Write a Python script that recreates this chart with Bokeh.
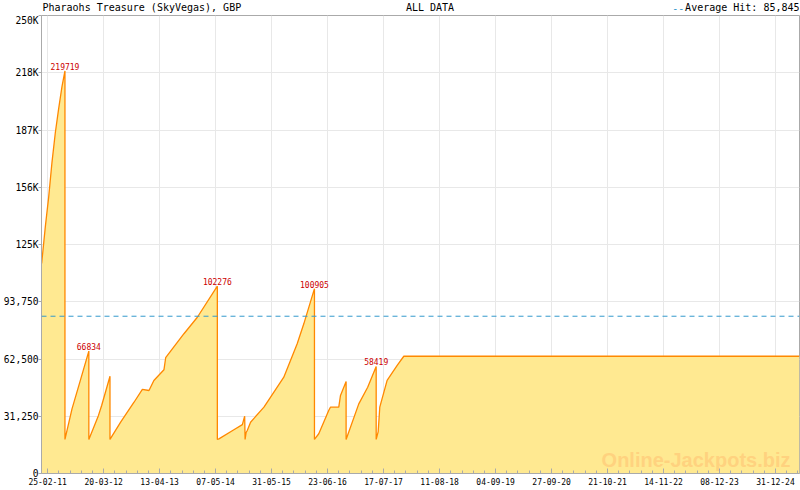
from datetime import datetime, timezone

from bokeh.core.properties import value
from bokeh.embed import file_html
from bokeh.layouts import column
from bokeh.models import (ColumnDataSource, DatetimeTickFormatter, FixedTicker,
                          Range1d, Span)
from bokeh.plotting import figure
from bokeh.resources import INLINE

# ---------------- data ----------------
title_text = "Pharaohs Treasure (SkyVegas), GBP"
period_text = "ALL DATA"
avg_hit = 85845

dates = [
    "2011-01-14", "2011-02-09", "2011-03-04", "2011-03-27", "2011-04-19",
    "2011-05-12", "2011-06-04", "2011-06-25", "2011-06-25",
    "2011-08-13", "2011-10-10", "2011-12-08", "2011-12-08",
    "2012-02-13", "2012-03-06", "2012-05-03", "2012-05-03",
    "2012-07-16", "2012-10-17", "2012-12-14", "2013-01-29", "2013-03-04",
    "2013-05-13", "2013-05-25", "2013-09-29", "2013-12-31", "2014-05-19",
    "2014-05-19", "2014-05-30", "2014-09-11", "2014-11-09", "2014-11-25",
    "2014-11-28", "2014-12-05", "2014-12-13", "2015-01-05", "2015-04-08",
    "2015-05-23", "2015-08-24", "2015-11-25", "2016-01-10", "2016-03-24",
    "2016-03-24", "2016-04-23", "2016-07-01", "2016-07-13", "2016-09-09",
    "2016-09-21", "2016-10-30", "2016-10-30", "2017-01-26", "2017-03-29",
    "2017-05-27", "2017-05-27", "2017-06-10", "2017-06-21", "2017-08-11",
    "2017-10-20", "2017-12-05", "2025-06-16",
]
values = [
    114600, 135000, 151000, 170000, 186000,
    199000, 211000, 219719, 18600,
    35300, 50800, 66834, 18600,
    31700, 37100, 53100, 18600,
    28000, 38900, 45900, 45300, 50800,
    56600, 63200, 76300, 85300, 102276,
    18600, 18900, 23900, 26700, 31300,
    18600, 22400, 23500, 28000, 36200,
    41600, 52600, 70800, 81700, 100905,
    18600, 21700, 34400, 36200, 36200,
    42600, 50200, 18600, 38000, 47100,
    58419, 18600, 22900, 36200, 50800,
    59000, 64000, 64000,
]

peak_dates = ["2011-06-25", "2011-12-08", "2014-05-19", "2016-03-24", "2017-05-27"]
peak_values = [219719, 66834, 102276, 100905, 58419]

x_tick_labels = ["25-02-11", "20-03-12", "13-04-13", "07-05-14", "31-05-15",
                 "23-06-16", "17-07-17", "11-08-18", "04-09-19", "27-09-20",
                 "21-10-21", "14-11-22", "08-12-23", "31-12-24"]
y_ticks = [0, 31250, 62500, 93750, 125000, 156250, 187500, 218750, 250000]
y_tick_labels = ["0", "31,250", "62,500", "93,750", "125K", "156K", "187K", "218K", "250K"]

x_start = "2011-01-13"
x_end = "2025-06-16"

W, H_HEAD, H_MAIN = 800, 14, 476
FRAME_L, FRAME_R = 40, 799
MONO = "DejaVu Sans Mono"


def ms(s, fmt="%Y-%m-%d"):
    d = datetime.strptime(s, fmt).replace(tzinfo=timezone.utc)
    return d.timestamp() * 1000.0


# ---------------- sources ----------------
src = ColumnDataSource(dict(x=[ms(d) for d in dates], y=values))
peak_src = ColumnDataSource(dict(x=[ms(d) for d in peak_dates], y=peak_values,
                                 label=[str(v) for v in peak_values]))

x0, x1 = ms(x_start), ms(x_end)
major = [ms(t, "%d-%m-%y") for t in x_tick_labels]
minor = []
step = major[1] - major[0]
for i in range(len(major)):
    for k in range(1, 5):
        v = major[i] + k * step / 5.0
        if v < x1:
            minor.append(v)

# ---------------- header strip (its frame is aligned with the main frame) ----------------
head = figure(width=W, height=H_HEAD, x_range=Range1d(FRAME_L, FRAME_R),
              y_range=Range1d(0, H_HEAD),
              x_axis_location=None, y_axis_location=None,
              output_backend="svg", toolbar_location=None,
              min_border_left=FRAME_L, min_border_right=W - FRAME_R,
              min_border_top=0, min_border_bottom=0)
head.outline_line_color = None
head.grid.visible = False
head.background_fill_color = "white"
head.border_fill_color = "white"
avg_text = f"Average Hit: {avg_hit:,}"
head.text(x=[41], y=[7], text=[title_text], text_font=value(MONO), text_font_size="10px",
          text_color="black", text_align="left", text_baseline="middle")
head.text(x=[429], y=[7], text=[period_text], text_font=value(MONO), text_font_size="10px",
          text_color="black", text_align="center", text_baseline="middle")
head.text(x=[799], y=[7], text=[avg_text], text_font=value(MONO), text_font_size="10px",
          text_color="black", text_align="right", text_baseline="middle")
head.text(x=[799 - len(avg_text) * 6.02 - 1], y=[7], text=["--"], text_font=value(MONO),
          text_font_size="10px", text_color="#3399cc", text_align="right",
          text_baseline="middle")

# ---------------- main figure ----------------
p = figure(width=W, height=H_MAIN, x_axis_type="datetime",
           x_range=Range1d(x0, x1), y_range=Range1d(0, 250000),
           output_backend="svg", toolbar_location=None,
           min_border_left=FRAME_L, min_border_right=W - FRAME_R,
           min_border_top=1, min_border_bottom=17)
p.background_fill_color = "white"
p.border_fill_color = "white"
p.outline_line_color = "#aaaaaa"

p.xaxis.ticker = FixedTicker(ticks=major, minor_ticks=minor)
p.xgrid.ticker = FixedTicker(ticks=major)
fmt = "%d-%m-%y"
p.xaxis.formatter = DatetimeTickFormatter(
    microseconds=fmt, milliseconds=fmt, seconds=fmt, minsec=fmt, minutes=fmt,
    hourmin=fmt, hours=fmt, days=fmt, months=fmt, years=fmt)
p.xaxis.major_tick_in = 5
p.xaxis.major_tick_out = 0
p.xaxis.minor_tick_in = 3
p.xaxis.minor_tick_out = 0
p.xaxis.major_label_standoff = 4
p.xaxis.major_label_text_font = MONO
p.xaxis.major_label_text_font_size = "8px"
p.xaxis.minor_tick_line_color = "#aaaaaa"

p.yaxis.ticker = FixedTicker(ticks=y_ticks)
p.yaxis.major_label_overrides = {t: l for t, l in zip(y_ticks, y_tick_labels)}
p.yaxis.major_tick_in = 0
p.yaxis.major_tick_out = 3
p.yaxis.minor_tick_line_color = None
p.yaxis.major_label_standoff = 0
p.yaxis.major_label_text_font = MONO
p.yaxis.major_label_text_font_size = "9.6px"

for ax in (p.xaxis, p.yaxis):
    ax.axis_line_color = "#aaaaaa"
    ax.major_tick_line_color = "#aaaaaa"
    ax.major_label_text_color = "black"

p.xgrid.grid_line_color = "#e8e8e8"
p.ygrid.grid_line_color = "#e8e8e8"

# area + line
p.varea(x="x", y1=0, y2="y", source=src, fill_color="#ffe991")
p.line(x="x", y="y", source=src, line_color="#ff8800", line_width=1.3)

# average line
p.add_layout(Span(location=avg_hit, dimension="width", line_color="#3399cc",
                  line_dash="5 4", line_width=1))

# peak labels
p.text(x="x", y="y", text="label", source=peak_src,
       text_font=value(MONO), text_font_size="8px",
       text_color="#cc0000", text_align="center", text_baseline="bottom",
       y_offset=-1)

# watermark
p.text(x=[x1], y=[0], text=["Online-Jackpots.biz"], text_font=value("Liberation Sans"),
       text_font_style="bold", text_font_size="20px", text_color="#ffd27f",
       text_align="right", text_baseline="bottom", x_offset=-9, y_offset=-3)

layout = column(head, p, spacing=0)
open("out.html", "w").write(file_html(layout, INLINE))
